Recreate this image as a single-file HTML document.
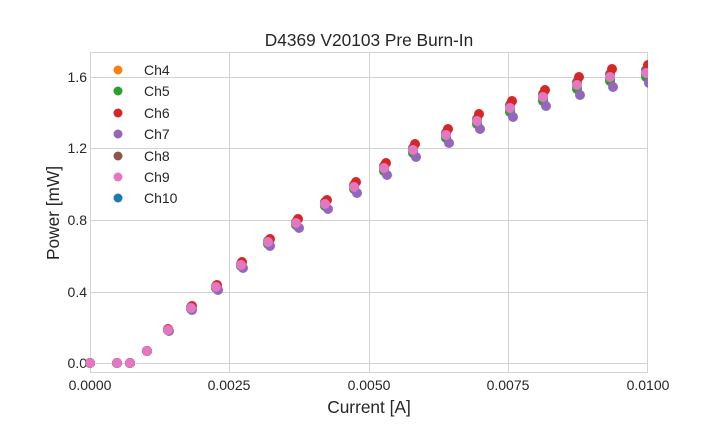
<!DOCTYPE html>
<html><head><style>body{margin:0;background:#fff}svg{display:block}</style></head><body>
<svg width="720" height="432" xmlns="http://www.w3.org/2000/svg" font-family="Liberation Sans, sans-serif">
<defs><clipPath id="c"><rect x="80" y="40" width="568" height="340"/></clipPath></defs>
<rect width="720" height="432" fill="#fff"/>
<g stroke="#d3d3d3" stroke-width="1">
<line x1="90.5" y1="52" x2="90.5" y2="373"/><line x1="229.5" y1="52" x2="229.5" y2="373"/><line x1="369.5" y1="52" x2="369.5" y2="373"/><line x1="508.5" y1="52" x2="508.5" y2="373"/><line x1="647.5" y1="52" x2="647.5" y2="373"/>
<line x1="90" y1="363.5" x2="648" y2="363.5"/><line x1="90" y1="292.5" x2="648" y2="292.5"/><line x1="90" y1="220.5" x2="648" y2="220.5"/><line x1="90" y1="148.5" x2="648" y2="148.5"/><line x1="90" y1="77.5" x2="648" y2="77.5"/>
<rect x="90.5" y="52.5" width="557" height="320" fill="none"/>
</g>
<g font-size="14" fill="#262626">
<text x="90" y="390" text-anchor="middle">0.0000</text><text x="229" y="390" text-anchor="middle">0.0025</text><text x="369" y="390" text-anchor="middle">0.0050</text><text x="508" y="390" text-anchor="middle">0.0075</text><text x="648" y="390" text-anchor="middle">0.0100</text>
<text x="87" y="368" text-anchor="end">0.0</text><text x="87" y="297" text-anchor="end">0.4</text><text x="87" y="225" text-anchor="end">0.8</text><text x="87" y="153" text-anchor="end">1.2</text><text x="87" y="82" text-anchor="end">1.6</text>
</g>
<text x="369" y="46" font-size="17.3" text-anchor="middle" fill="#262626">D4369 V20103 Pre Burn-In</text>
<text x="369" y="413" font-size="17.3" text-anchor="middle" fill="#262626">Current [A]</text>
<text transform="translate(59,213) rotate(-90)" font-size="17.3" text-anchor="middle" fill="#262626">Power [mW]</text>
<g clip-path="url(#c)">
<g fill="#1f77b4">
<circle cx="90" cy="363" r="5"/><circle cx="117" cy="363" r="5"/><circle cx="130" cy="363" r="5"/><circle cx="147" cy="351" r="5"/><circle cx="168" cy="330" r="5"/><circle cx="191" cy="308" r="5"/><circle cx="216" cy="288" r="5"/><circle cx="241" cy="266" r="5"/><circle cx="268" cy="243" r="5"/><circle cx="296" cy="224" r="5"/><circle cx="325" cy="205" r="5"/><circle cx="354" cy="188" r="5"/><circle cx="384" cy="169" r="5"/><circle cx="413" cy="151" r="5"/><circle cx="446" cy="137" r="5"/><circle cx="477" cy="123" r="5"/><circle cx="510" cy="110" r="5"/><circle cx="543" cy="99" r="5"/><circle cx="577" cy="87" r="5"/><circle cx="610" cy="79" r="5"/><circle cx="646" cy="75" r="5"/>
</g>
<g fill="#2ca02c">
<circle cx="90" cy="363" r="5"/><circle cx="117" cy="363" r="5"/><circle cx="130" cy="363" r="5"/><circle cx="147" cy="351" r="5"/><circle cx="168" cy="330" r="5"/><circle cx="191" cy="309" r="5"/><circle cx="216" cy="288" r="5"/><circle cx="241" cy="266" r="5"/><circle cx="268" cy="244" r="5"/><circle cx="296" cy="225" r="5"/><circle cx="325" cy="206" r="5"/><circle cx="354" cy="189" r="5"/><circle cx="384" cy="171" r="5"/><circle cx="413" cy="153" r="5"/><circle cx="446" cy="138" r="5"/><circle cx="477" cy="124" r="5"/><circle cx="510" cy="112" r="5"/><circle cx="543" cy="101" r="5"/><circle cx="577" cy="89" r="5"/><circle cx="610" cy="81" r="5"/><circle cx="646" cy="77" r="5"/>
</g>
<g fill="#9467bd">
<circle cx="90" cy="363" r="5"/><circle cx="117" cy="363" r="5"/><circle cx="130" cy="363" r="5"/><circle cx="147" cy="351" r="5"/><circle cx="169" cy="331" r="5"/><circle cx="192" cy="310" r="5"/><circle cx="218" cy="290" r="5"/><circle cx="243" cy="268" r="5"/><circle cx="270" cy="246" r="5"/><circle cx="299" cy="228" r="5"/><circle cx="328" cy="209" r="5"/><circle cx="357" cy="193" r="5"/><circle cx="387" cy="175" r="5"/><circle cx="416" cy="157" r="5"/><circle cx="449" cy="143" r="5"/><circle cx="480" cy="129" r="5"/><circle cx="513" cy="117" r="5"/><circle cx="546" cy="106" r="5"/><circle cx="580" cy="95" r="5"/><circle cx="613" cy="87" r="5"/><circle cx="649" cy="83" r="5"/>
</g>
<g fill="#8c564b">
<circle cx="90" cy="363" r="5"/><circle cx="117" cy="363" r="5"/><circle cx="130" cy="363" r="5"/><circle cx="147" cy="351" r="5"/><circle cx="168" cy="330" r="5"/><circle cx="191" cy="307" r="5"/><circle cx="216" cy="286" r="5"/><circle cx="241" cy="264" r="5"/><circle cx="268" cy="241" r="5"/><circle cx="296" cy="222" r="5"/><circle cx="325" cy="202" r="5"/><circle cx="354" cy="185" r="5"/><circle cx="384" cy="166" r="5"/><circle cx="413" cy="148" r="5"/><circle cx="446" cy="133" r="5"/><circle cx="477" cy="119" r="5"/><circle cx="510" cy="105" r="5"/><circle cx="543" cy="94" r="5"/><circle cx="577" cy="82" r="5"/><circle cx="610" cy="74" r="5"/><circle cx="646" cy="70" r="5"/>
</g>
<g fill="#d62728">
<circle cx="90" cy="363" r="5"/><circle cx="117" cy="363" r="5"/><circle cx="130" cy="363" r="5"/><circle cx="147" cy="351" r="5"/><circle cx="168" cy="329" r="5"/><circle cx="192" cy="306" r="5"/><circle cx="217" cy="285" r="5"/><circle cx="242" cy="262" r="5"/><circle cx="270" cy="239" r="5"/><circle cx="298" cy="219" r="5"/><circle cx="327" cy="200" r="5"/><circle cx="356" cy="182" r="5"/><circle cx="386" cy="163" r="5"/><circle cx="415" cy="144" r="5"/><circle cx="448" cy="129" r="5"/><circle cx="479" cy="114" r="5"/><circle cx="512" cy="101" r="5"/><circle cx="545" cy="90" r="5"/><circle cx="579" cy="77" r="5"/><circle cx="612" cy="69" r="5"/><circle cx="648" cy="65" r="5"/>
</g>
<g fill="#e377c2">
<circle cx="90" cy="363" r="5"/><circle cx="117" cy="363" r="5"/><circle cx="130" cy="363" r="5"/><circle cx="147" cy="351" r="5"/><circle cx="168" cy="330" r="5"/><circle cx="191" cy="308" r="5"/><circle cx="216" cy="287" r="5"/><circle cx="241" cy="265" r="5"/><circle cx="268" cy="242" r="5"/><circle cx="296" cy="223" r="5"/><circle cx="325" cy="204" r="5"/><circle cx="354" cy="187" r="5"/><circle cx="384" cy="168" r="5"/><circle cx="413" cy="150" r="5"/><circle cx="446" cy="135" r="5"/><circle cx="477" cy="121" r="5"/><circle cx="510" cy="108" r="5"/><circle cx="543" cy="97" r="5"/><circle cx="577" cy="85" r="5"/><circle cx="610" cy="77" r="5"/><circle cx="646" cy="73" r="5"/>
</g>
</g>
<g font-size="14" fill="#262626">
<circle cx="118" cy="70" r="4.5" fill="#ff7f0e"/><text x="144" y="75">Ch4</text>
<circle cx="118" cy="91" r="4.5" fill="#2ca02c"/><text x="144" y="96">Ch5</text>
<circle cx="118" cy="113" r="4.5" fill="#d62728"/><text x="144" y="118">Ch6</text>
<circle cx="118" cy="134" r="4.5" fill="#9467bd"/><text x="144" y="139">Ch7</text>
<circle cx="118" cy="156" r="4.5" fill="#8c564b"/><text x="144" y="161">Ch8</text>
<circle cx="118" cy="177" r="4.5" fill="#e377c2"/><text x="144" y="182">Ch9</text>
<circle cx="118" cy="198" r="4.5" fill="#1f77b4"/><text x="144" y="203">Ch10</text>
</g>
</svg>
</body></html>
